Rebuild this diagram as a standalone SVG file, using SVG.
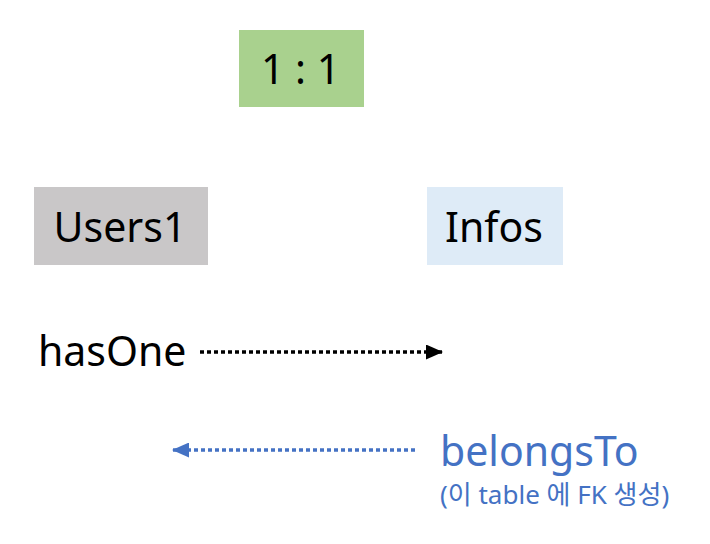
<svg xmlns="http://www.w3.org/2000/svg" width="710" height="544" viewBox="0 0 710 544">
<style>
.lbl{font-family:"Noto Sans","Open Sans",sans-serif;font-size:41px;fill:#000}
.blue{fill:#4472C4}
.small{font-family:"Noto Sans","Noto Sans CJK KR",sans-serif;font-size:26px;fill:#4472C4}
.conn{fill:none;stroke-width:3.5;stroke-dasharray:4 3}
</style>
<defs>
<marker id="ahK" markerWidth="17" markerHeight="15" refX="16" refY="7.5" orient="auto" markerUnits="userSpaceOnUse"><path d="M0,0 L17,7.5 L0,15 Z" fill="#000"/></marker>
<marker id="ahB" markerWidth="17" markerHeight="15" refX="16" refY="7.5" orient="auto" markerUnits="userSpaceOnUse"><path d="M0,0 L17,7.5 L0,15 Z" fill="#4472C4"/></marker>
</defs>
<rect width="710" height="544" fill="#fff"/>
<g id="ratio">
<rect x="239" y="30" width="125" height="77" fill="#A9D18E"/>
<text class="lbl" x="300.5" y="84" text-anchor="middle" font-size="43">1 : 1</text>
</g>
<g id="users1">
<rect x="34" y="187" width="174" height="78" fill="#C9C7C8"/>
<text class="lbl" x="120" y="242" text-anchor="middle">Users1</text>
</g>
<g id="infos">
<rect x="427" y="187" width="136" height="78" fill="#DEEBF7"/>
<text class="lbl" x="494" y="242" text-anchor="middle">Infos</text>
</g>
<g id="hasOne">
<text class="lbl" x="38" y="366">hasOne</text>
</g>
<g id="belongsTo">
<text class="lbl blue" x="440" y="466">belongsTo</text>
<text class="small" x="440" y="504">(이 table 에 FK 생성)</text>
</g>
<g id="connectors">
<line class="conn" x1="200" y1="352" x2="442" y2="352" stroke="#000" marker-end="url(#ahK)"/>
<line class="conn" x1="415" y1="450" x2="173" y2="450" stroke="#4472C4" marker-end="url(#ahB)"/>
</g>
</svg>
